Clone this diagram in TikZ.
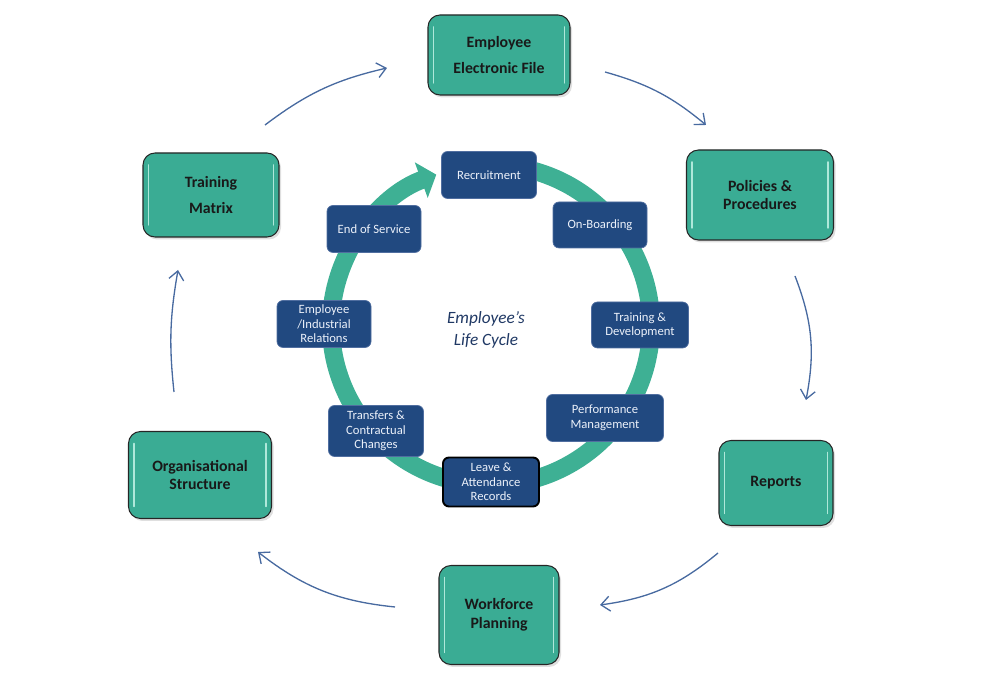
\documentclass[tikz,border=0pt]{standalone}
\usepackage{fontspec}
\setmainfont{Carlito}
\usetikzlibrary{arrows.meta, shadows, calc}

\definecolor{hrteal}{RGB}{58,172,148}
\definecolor{ringteal}{RGB}{62,176,148}
\definecolor{glint}{RGB}{175,232,218}
\definecolor{stageblue}{RGB}{33,73,128}
\definecolor{stageedge}{RGB}{80,110,160}
\definecolor{stagetext}{RGB}{236,241,250}
\definecolor{flowblue}{RGB}{72,106,160}
\definecolor{cycletext}{RGB}{31,56,100}

\begin{document}
\begin{tikzpicture}[x=0.2mm, y=0.2mm, >={Straight Barb[length=5pt, width=8.5pt]}]
    \tikzset{
        hrbox/.style={draw=black!85, line width=0.6pt, fill=hrteal, rounded corners=2.4mm,
            align=center, text=black!90, font=\fontsize{9}{10.5}\selectfont\bfseries,
            drop shadow={opacity=0.25, shadow xshift=0.4mm, shadow yshift=-0.5mm},
            path picture={
                \draw[glint, line width=0.3mm, line cap=round]
                    ([xshift=1.1mm, yshift=-2.4mm]path picture bounding box.north west) --
                    ([xshift=1.1mm, yshift=2.4mm]path picture bounding box.south west)
                    ([xshift=-1.1mm, yshift=-2.4mm]path picture bounding box.north east) --
                    ([xshift=-1.1mm, yshift=2.4mm]path picture bounding box.south east);
            }},
        stage/.style={draw=stageedge, line width=0.4pt, fill=stageblue, rounded corners=1.2mm,
            align=center, inner sep=0pt, text=stagetext, font=\fontsize{7.2}{8.3}\selectfont},
        flow/.style={->, draw=flowblue, line width=0.75pt},
    };
    \useasboundingbox (0,0) rectangle (1000,681);
    % Life cycle ring
    \draw[ringteal, line width=3.6mm, -{Triangle[width=7.4mm, length=3.2mm]}]
        ($(491,356)+(75:160)$) arc[start angle=75, end angle=-250, radius=160];
    \node[font=\fontsize{9.8}{12.5}\selectfont\itshape, text=cycletext, align=center]
        (cycle) at (486,351) {Employee’s\\Life Cycle};
    % Stages
    \node[stage, minimum width=19mm, minimum height=9.4mm] (rec) at (489,506) {Recruitment};
    \node[stage, minimum width=18.8mm, minimum height=9.2mm] (onb) at (600,456) {On-Boarding};
    \node[stage, minimum width=19.4mm, minimum height=9.2mm] (td) at (640,356) {Training \&\\Development};
    \node[stage, minimum width=23.4mm, minimum height=9.4mm] (pm) at (605,263) {Performance\\Management};
    \node[stage, draw=black, line width=1.1pt, minimum width=19.2mm, minimum height=9.8mm]
        (lar) at (491,199) {Leave \&\\Attendance\\Records};
    \node[stage, minimum width=19mm, minimum height=10.2mm] (tcc) at (376,250) {Transfers \&\\Contractual\\Changes};
    \node[stage, minimum width=18.8mm, minimum height=9.4mm] (eir) at (324,357) {Employee\\/Industrial\\Relations};
    \node[stage, minimum width=18.8mm, minimum height=9.4mm] (eos) at (374,452) {End of Service};
    % Outer boxes
    \node[hrbox, minimum width=28.4mm, minimum height=16mm] (eef) at (499,626) {Employee\\[4pt]Electronic File};
    \node[hrbox, minimum width=29.4mm, minimum height=18mm] (pp) at (760,486) {Policies \&\\Procedures};
    \node[hrbox, minimum width=22.8mm, minimum height=17mm] (rep) at (776,198) {Reports};
    \node[hrbox, minimum width=24mm, minimum height=19.8mm] (wp) at (499,66) {Workforce\\Planning};
    \node[hrbox, minimum width=28.6mm, minimum height=17.4mm] (os) at (200,206) {Organisational\\Structure};
    \node[hrbox, minimum width=27.2mm, minimum height=16.8mm] (tm) at (211,486) {Training\\[4pt]Matrix};
    % Outer flow
    \coordinate (tmout) at (265,556);  \coordinate (eefin) at (387,613);
    \coordinate (eefout) at (605,609); \coordinate (ppin) at (706,556);
    \coordinate (ppout) at (795,405);  \coordinate (repin) at (806,281);
    \coordinate (repout) at (718,128); \coordinate (wpin) at (600,76);
    \coordinate (wpout) at (395,74);   \coordinate (osin) at (258,129);
    \coordinate (osout) at (174,289);  \coordinate (tmin) at (178,411);
    \foreach \from/\to/\bend in {tmout/eefin/12, eefout/ppin/12, ppout/repin/16,
                                 repout/wpin/16, wpout/osin/16, osout/tmin/8}{
        \draw[flow] (\from) to[bend left=\bend] (\to);
    }
\end{tikzpicture}
\end{document}
